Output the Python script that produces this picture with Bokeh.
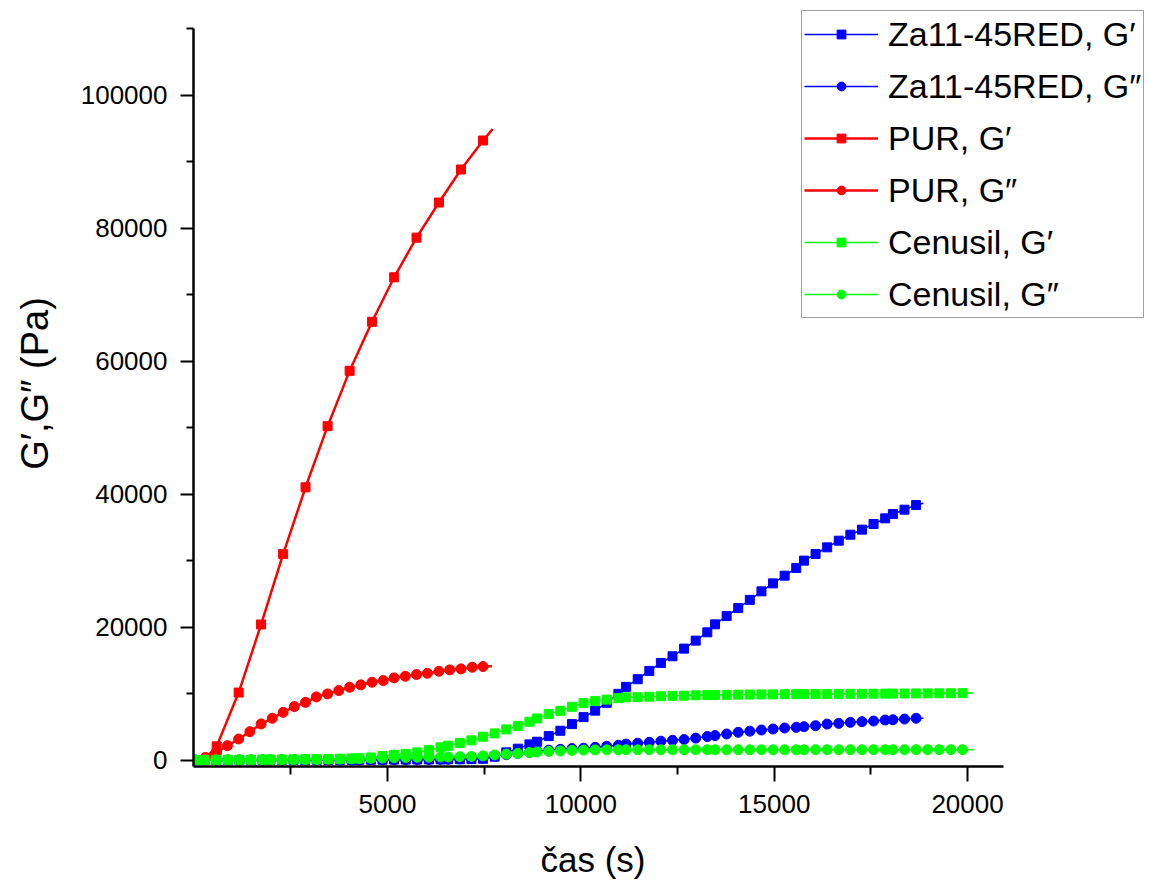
from bokeh.plotting import figure
from bokeh.models import (Range1d, FixedTicker, Legend, LegendItem,
                          BasicTickFormatter, Title)
from bokeh.embed import file_html
from bokeh.resources import INLINE

# sampling times of the Za11-45RED and Cenusil runs (s)
t_long = [30, 270, 570, 870, 1170, 1470, 1770, 1970, 2270, 2570, 2870, 3170,
          3470, 3770, 4070, 4270, 4570, 4870, 5170, 5470, 5770, 6070, 6370,
          6570, 6870, 7170, 7470, 7770, 8070, 8370, 8670, 8870, 9170, 9470,
          9770, 10070, 10370, 10670, 10970, 11170, 11470, 11770, 12070, 12370,
          12670, 12970, 13270, 13470, 13770, 14070, 14370, 14670, 14970, 15270,
          15570, 15770, 16070, 16370, 16670, 16970, 17270, 17570, 17870, 18070,
          18370, 18670, 18970, 19270, 19570, 19870]

# Za11-45RED (Pa), first 66 sampling times
za_gp = [0, 0, 0, 0, 0, 0, 0, 0, 10, 10, 10, 20, 20, 20, 30, 30, 40, 50, 60,
         70, 80, 90, 100, 110, 120, 130, 180, 500, 1150, 1700, 2350, 2750,
         3600, 4400, 5400, 6450, 7420, 8600, 9950, 11000, 12150, 13400, 14600,
         15600, 16750, 17950, 19200, 20400, 21650, 22850, 24080, 25360, 26560,
         27720, 28870, 29980, 30980, 31980, 32980, 33880, 34640, 35490, 36340,
         36990, 37640, 38340]
za_gpp = [0, 0, 0, 0, 0, 0, 0, 0, 0, 10, 10, 10, 20, 20, 20, 30, 30, 40, 50,
          60, 70, 80, 100, 120, 160, 220, 320, 600, 800, 1000, 1160, 1300,
          1480, 1600, 1720, 1780, 1900, 2060, 2220, 2400, 2530, 2660, 2830,
          2960, 3080, 3290, 3530, 3680, 3910, 4160, 4330, 4510, 4660, 4810,
          4910, 5010, 5160, 5400, 5510, 5660, 5760, 5860, 6010, 6060, 6160,
          6270]
za_end_t = 18860
za_gp_end = 38600
za_gpp_end = 6270

# Cenusil (Pa)
cen_gp = [0, 10, 20, 30, 40, 50, 60, 70, 80, 100, 110, 130, 150, 180, 220,
          260, 380, 600, 780, 920, 1150, 1480, 1900, 2150, 2550, 2950, 3500,
          4000, 4600, 5100, 5750, 6250, 6900, 7400, 8000, 8550, 8880, 9080,
          9300, 9420, 9450, 9520, 9580, 9650, 9680, 9730, 9760, 9780, 9800,
          9820, 9840, 9860, 9870, 9890, 9900, 9910, 9920, 9930, 9940, 9950,
          9960, 9970, 9980, 9990, 10000, 10010, 10020, 10030, 10040, 10050]
cen_gpp = [0, 0, 10, 10, 20, 20, 30, 30, 40, 50, 60, 80, 100, 130, 170, 200,
           250, 300, 340, 380, 410, 430, 450, 470, 500, 540, 620, 760, 880,
           990, 1120, 1200, 1290, 1370, 1440, 1490, 1520, 1530, 1540, 1540,
           1540, 1540, 1540, 1540, 1540, 1540, 1540, 1540, 1540, 1540, 1540,
           1540, 1540, 1540, 1540, 1540, 1550, 1550, 1550, 1550, 1550, 1550,
           1550, 1550, 1550, 1560, 1560, 1560, 1560, 1560]
cen_end_t = 20160
cen_gp_end = 10060
cen_gpp_end = 1560

# PUR (Pa)
pur_t = [290, 580, 860, 1150, 1440, 1730, 2020, 2300, 2590, 2880, 3160, 3450,
         3740, 4020, 4310, 4600, 4890, 5170, 5460, 5750, 6030, 6330, 6610,
         6900, 7190, 7470]
pur_gpp = [390, 1140, 2150, 3160, 4260, 5420, 6270, 7170, 8030, 8670, 9490,
           9940, 10440, 10930, 11300, 11690, 11940, 12350, 12590, 12850, 13040,
           13340, 13550, 13700, 13950, 14050]
pur_gpp_end = (7700, 14100)
pur_gp_t = [580, 1150, 1730, 2300, 2880, 3450, 4020, 4600, 5170, 5750, 6330,
            6900, 7470]
pur_gp = [2050, 10140, 20380, 30960, 41010, 50200, 58520, 65900, 72590, 78550,
          83830, 88800, 93160]
pur_gp_start = (250, 0)
pur_gp_end = (7720, 94880)

x_ticks = [5000, 10000, 15000, 20000]
x_minor = [2500, 7500, 12500, 17500]
y_ticks = [0, 20000, 40000, 60000, 80000, 100000]
y_minor = [10000, 30000, 50000, 70000, 90000, 110000]

# axis extents; the frame runs wider and taller so the legend box fits inside it
X_AXIS = (-18, 20930)
Y_AXIS = (-977, 110000)

FONT = "Liberation Sans"
BLUE, RED, GREEN = "#0000FF", "#FF0000", "#00FF00"

p = figure(width=1149, height=881, output_backend="svg", toolbar_location=None,
           x_range=Range1d(-18, 24706), y_range=Range1d(-977, 114211),
           min_border_left=193, min_border_right=0, min_border_top=0,
           min_border_bottom=115)
p.outline_line_color = None
p.xgrid.visible = False
p.ygrid.visible = False
p.background_fill_color = "white"
p.border_fill_color = "white"

for ax in (p.xaxis[0], p.yaxis[0]):
    ax.axis_line_width = 2.5
    ax.axis_line_color = "black"
    ax.major_tick_line_width = 2
    ax.minor_tick_line_width = 2
    ax.major_tick_in = 0
    ax.minor_tick_in = 0
    ax.major_label_text_font = FONT
    ax.major_label_text_font_size = "26px"
    ax.major_label_text_color = "black"
    ax.axis_label_text_font = FONT
    ax.axis_label_text_font_style = "normal"
    ax.axis_label_text_color = "black"
    ax.formatter = BasicTickFormatter(use_scientific=False)

p.xaxis.bounds = X_AXIS
p.yaxis.bounds = Y_AXIS
p.xaxis.ticker = FixedTicker(ticks=x_ticks, minor_ticks=x_minor)
p.yaxis.ticker = FixedTicker(ticks=y_ticks, minor_ticks=y_minor)
p.xaxis.major_tick_out = 15
p.xaxis.minor_tick_out = 8
p.yaxis.major_tick_out = 13
p.yaxis.minor_tick_out = 7
p.xaxis.major_label_standoff = 13
p.yaxis.major_label_standoff = 13
p.yaxis.axis_label = "G′,G″ (Pa)"
p.yaxis.axis_label_text_font_size = "38px"
p.yaxis.axis_label_standoff = 22

# blank x-axis label: only reserves a little room under the tick labels
p.xaxis.axis_label = " "
p.xaxis.axis_label_text_font_size = "12px"
p.xaxis.axis_label_standoff = 7

# x-axis caption, centred under the bounded axis line rather than the frame
x_caption = Title(text="čas (s)", align="left", offset=347, standoff=0,
                  vertical_align="top",
                  text_font=FONT, text_font_size="35px",
                  text_font_style="normal", text_color="black")
p.add_layout(x_caption, "below")

# Za11-45RED
n_za = len(za_gp)
za_t = t_long[:n_za]
l1 = p.line(za_t + [za_end_t], za_gp + [za_gp_end], line_color=BLUE, line_width=1.5)
s1 = p.scatter(za_t, za_gp, marker="square", size=9, fill_color=BLUE, line_color=BLUE)
l2 = p.line(za_t + [za_end_t], za_gpp + [za_gpp_end], line_color=BLUE, line_width=1.5)
s2 = p.scatter(za_t, za_gpp, marker="circle", size=10, fill_color=BLUE, line_color=BLUE)

# PUR
l3 = p.line([pur_gp_start[0]] + pur_gp_t + [pur_gp_end[0]],
            [pur_gp_start[1]] + pur_gp + [pur_gp_end[1]],
            line_color=RED, line_width=2.5)
s3 = p.scatter(pur_gp_t, pur_gp, marker="square", size=9, fill_color=RED, line_color=RED)
l4 = p.line(pur_t + [pur_gpp_end[0]], pur_gpp + [pur_gpp_end[1]],
            line_color=RED, line_width=2.5)
s4 = p.scatter(pur_t, pur_gpp, marker="circle", size=10, fill_color=RED, line_color=RED)

# Cenusil
l5 = p.line(t_long + [cen_end_t], cen_gp + [cen_gp_end], line_color=GREEN, line_width=1.5)
s5 = p.scatter(t_long, cen_gp, marker="square", size=9, fill_color=GREEN, line_color=GREEN)
l6 = p.line(t_long + [cen_end_t], cen_gpp + [cen_gpp_end], line_color=GREEN, line_width=1.5)
s6 = p.scatter(t_long, cen_gpp, marker="circle", size=10, fill_color=GREEN, line_color=GREEN)

labels = ["Za11-45RED, G′", "Za11-45RED, G″", "PUR, G′", "PUR, G″",
          "Cenusil, G′", "Cenusil, G″"]
pairs = [(l1, s1), (l2, s2), (l3, s3), (l4, s4), (l5, s5), (l6, s6)]
items = [LegendItem(label=lab, renderers=list(rs)) for lab, rs in zip(labels, pairs)]

legend = Legend(items=items, location=(608, 448), orientation="vertical",
                padding=2, spacing=10, margin=0,
                glyph_width=74, glyph_height=22, label_height=42,
                label_standoff=10, label_text_font=FONT,
                label_text_font_size="34px", label_text_color="black",
                border_line_color="#444444", border_line_width=1.5,
                background_fill_color="white", background_fill_alpha=1.0)
p.add_layout(legend, "center")

open("out.html", "w").write(file_html(p, INLINE))
